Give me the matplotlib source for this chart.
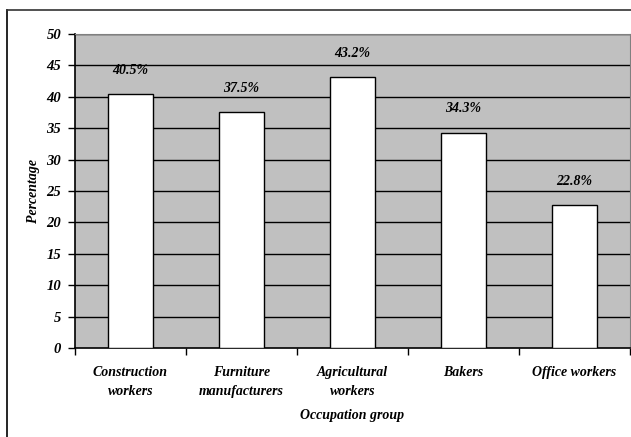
import matplotlib.pyplot as plt
from matplotlib.lines import Line2D

categories = ['Construction\nworkers', 'Furniture\nmanufacturers', 'Agricultural\nworkers',
              'Bakers', 'Office workers']
values = [40.5, 37.5, 43.2, 34.3, 22.8]
yticks = [0, 5, 10, 15, 20, 25, 30, 35, 40, 45, 50]

plt.rcParams['font.family'] = ['Liberation Serif', 'DejaVu Serif']
font = dict(fontweight='bold', fontstyle='italic')

fig = plt.figure(figsize=(6.31, 4.37), dpi=100)
ax = fig.add_axes([0.1189, 0.2037, 0.8795, 0.7185])
ax.set_facecolor('#C0C0C0')

x = list(range(len(values)))
ax.bar(x, values, width=0.41, color='white', edgecolor='black', linewidth=1.0, zorder=3)

# grid lines
for v in yticks[1:]:
    ax.axhline(v, color='black', linewidth=1.0, zorder=1)

for xi, v in zip(x, values):
    ax.annotate(f'{v:.1f}%', (xi, v), xytext=(0, 17), textcoords='offset points',
                ha='center', va='center', fontsize=10, **font)

ax.set_xlim(-0.5, len(values) - 0.5)
ax.set_ylim(0, 50)
ax.set_yticks(yticks)
ax.set_yticklabels([str(t) for t in yticks], fontsize=10.5, **font)

ax.set_xticks([i - 0.5 for i in range(len(values) + 1)])
ax.set_xticklabels([])
ax.set_xticks(x, minor=True)
ax.set_xticklabels(categories, minor=True, fontsize=10, linespacing=1.6, **font)
ax.tick_params(axis='x', which='minor', length=0, pad=13)
ax.tick_params(axis='x', which='major', length=5, direction='out', width=1)
ax.tick_params(axis='y', length=5, width=1, pad=5)

ax.set_ylabel('Percentage', fontsize=10, **font)
ax.yaxis.set_label_coords(-0.063, 0.5)
ax.set_xlabel('Occupation group', fontsize=10, labelpad=8, **font)

for side in ['top', 'right']:
    ax.spines[side].set_color('#808080')
for side in ['left', 'bottom']:
    ax.spines[side].set_color('black')
    ax.spines[side].set_linewidth(1.2)

# outer chart border (cut off at right and bottom)
x0 = 7 / 631
y0 = 1 - 10 / 437
fig.add_artist(Line2D([x0, x0], [0, y0], color='black', linewidth=1.2, transform=fig.transFigure))
fig.add_artist(Line2D([x0, 1], [y0, y0], color='#333333', linewidth=1.2, transform=fig.transFigure))

fig.savefig('out.png', dpi=100)
